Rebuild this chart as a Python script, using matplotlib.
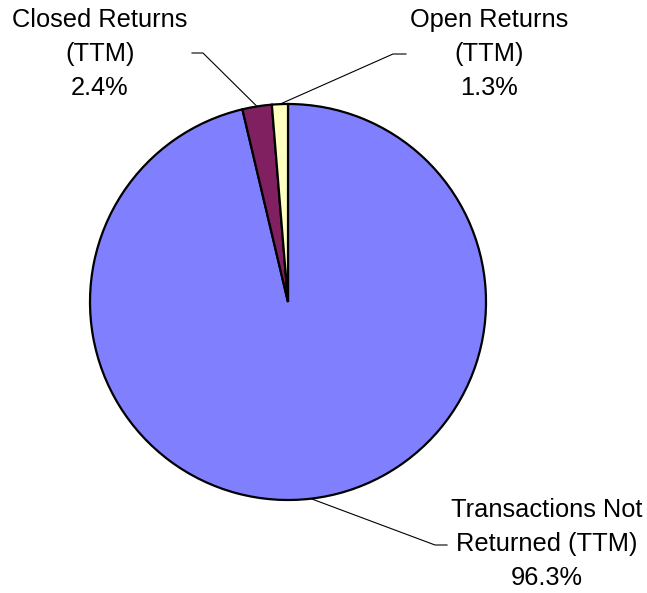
import numpy as np
import matplotlib
matplotlib.use("Agg")
import matplotlib.pyplot as plt

categories = ["Transactions Not\nReturned (TTM)", "Closed Returns\n(TTM)", "Open Returns\n(TTM)"]
values = [96.3, 2.4, 1.3]
colors = ["#8080FF", "#802060", "#FFFFC0"]

W, H = 647, 593
fig = plt.figure(figsize=(W / 100, H / 100), dpi=100)
ax = fig.add_axes([0, 0, 1, 1])

cx, cy, R = 288, H - 302, 198
wedges, _ = ax.pie(values, colors=colors, startangle=90, counterclock=False,
                   center=(cx, cy), radius=R, frame=True,
                   wedgeprops=dict(edgecolor="black", linewidth=1.6))
ax.set_xlim(0, W)
ax.set_ylim(0, H)
ax.set_aspect("equal")
ax.axis("off")

# label layout: (elbow point, horizontal end, text center)
layout = [
    ((435, H - 545), (447, H - 545), (547, H - 544)),
    ((203, H - 53), (192, H - 53), (100, H - 54)),
    ((393, H - 54), (406, H - 54), (489, H - 54)),
]

for w, cat, val, (elbow, hend, tc) in zip(wedges, categories, values, layout):
    ang = np.deg2rad((w.theta1 + w.theta2) / 2)
    sx, sy = cx + R * np.cos(ang), cy + R * np.sin(ang)
    ax.plot([sx, elbow[0], hend[0]], [sy, elbow[1], hend[1]], color="black", lw=0.8)
    ax.text(tc[0], tc[1], f"{cat}\n{val:.1f}%", ha="center", va="center",
            fontsize=18.3, family="Liberation Sans", linespacing=1.55)

fig.savefig("out.png", dpi=100)
